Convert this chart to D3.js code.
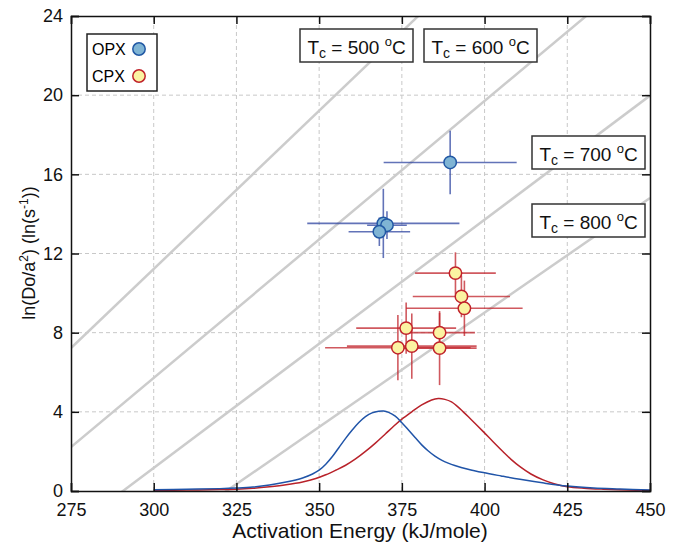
<!DOCTYPE html>
<html>
<head>
<meta charset="utf-8">
<script src="https://cdn.jsdelivr.net/npm/d3@7"></script>
<style>
  body { margin: 0; background: #fff; }
  svg { font-family: "Liberation Sans", Arial, Helvetica, sans-serif; }
</style>
</head>
<body>
<svg id="chart" width="682" height="544"></svg>
<script>
// data
const xTicks = [275, 300, 325, 350, 375, 400, 425, 450];
const yTicks = [0, 4, 8, 12, 16, 20, 24];

// OPX points: [E, lnD, E err, lnD err]
const opx = [
  [389.6, 16.6, 20.1, 1.6],
  [369.4, 13.52, 23.0, 1.75],
  [370.5, 13.43, 6.0, 0.7],
  [368.2, 13.1, 9.3, 0.72]
];
// CPX points
const cpx = [
  [391.2, 11.01, 12.2, 1.05],
  [393.0, 9.83, 14.7, 1.05],
  [393.9, 9.23, 17.6, 1.4],
  [376.3, 8.23, 15.1, 1.3],
  [386.4, 8.0, 10.7, 1.0],
  [373.8, 7.24, 22.0, 1.65],
  [378.0, 7.32, 19.6, 1.65],
  [386.4, 7.22, 11.2, 1.87]
];

// closure temperature isotherms, two end points each [E, lnD]
const isoLabels = ["500", "600", "700", "800"];
const isotherms = [
  [[275, 7.22], [450, 35.2]],
  [[275, 2.22], [450, 26.7]],
  [[275, -1.97], [450, 19.98]],
  [[275, -5.43], [450, 14.8]]
];

// probability curves (E, scaled density)
const opxCurve = [
  [300, 0.06], [310, 0.09], [320, 0.12], [325, 0.15], [330, 0.2], [335, 0.3], [340, 0.45],
  [345, 0.66], [348, 0.86], [350, 1.05], [352, 1.35], [354, 1.74], [356, 2.2], [358, 2.66],
  [360, 3.08], [362, 3.46], [364, 3.76], [366, 3.95], [368, 4.03], [369.5, 4.04], [371, 3.97],
  [373, 3.78], [375, 3.45], [377, 3.08], [379, 2.7], [381, 2.33], [383, 2.02], [385, 1.76],
  [387, 1.56], [389, 1.41], [391, 1.29], [395, 1.1], [399.6, 0.93], [405, 0.76],
  [410.7, 0.59], [418, 0.4], [425, 0.25], [433, 0.15], [440.9, 0.1], [450, 0.05]
];
const cpxCurve = [
  [300, 0.03], [310, 0.05], [320, 0.07], [325, 0.09], [330, 0.14], [335, 0.22], [340, 0.32],
  [345, 0.46], [349, 0.63], [352, 0.82], [355, 1.05], [358, 1.3], [361, 1.62], [364, 2.0],
  [367, 2.42], [370, 2.88], [372.5, 3.27], [375, 3.63], [378, 4.0], [381, 4.35], [384, 4.6],
  [386, 4.67], [388, 4.63], [390, 4.5], [392.6, 4.15], [396, 3.6], [399.6, 3.0], [402.5, 2.5],
  [405.6, 1.98], [408, 1.6], [410.7, 1.23], [414, 0.86], [417.7, 0.56], [421, 0.37],
  [425, 0.22], [430, 0.14], [435.9, 0.09], [443, 0.05], [450, 0.03]
];

const svg = d3.select('#chart');

const x = d3.scaleLinear().domain([275, 450]).range([71, 650]);
const y = d3.scaleLinear().domain([0, 24]).range([491, 16]);

svg.append('defs').append('clipPath').attr('id', 'plotClip')
  .append('rect')
  .attr('x', x(275)).attr('y', y(24))
  .attr('width', x(450) - x(275)).attr('height', y(0) - y(24));

// grid
const grid = svg.append('g');
xTicks.slice(1, -1).forEach(t => {
  grid.append('line')
    .attr('x1', x(t)).attr('x2', x(t)).attr('y1', y(0)).attr('y2', y(24))
    .attr('stroke', '#c8c8c8').attr('stroke-width', 1).attr('stroke-dasharray', '4,3');
});
yTicks.slice(1, -1).forEach(t => {
  grid.append('line')
    .attr('x1', x(275)).attr('x2', x(450)).attr('y1', y(t)).attr('y2', y(t))
    .attr('stroke', '#c8c8c8').attr('stroke-width', 1).attr('stroke-dasharray', '4,3');
});

const plot = svg.append('g').attr('clip-path', 'url(#plotClip)');

const line = d3.line().x(d => x(d[0])).y(d => y(d[1]));

// isotherms
isotherms.forEach(seg => {
  plot.append('path')
    .attr('d', line(seg))
    .attr('stroke', '#cccccc').attr('stroke-width', 2.5).attr('fill', 'none');
});

// curves
const curveLine = d3.line().curve(d3.curveCatmullRom).x(d => x(d[0])).y(d => y(d[1]));
plot.append('path').attr('d', curveLine(cpxCurve))
  .attr('stroke', '#b8222a').attr('stroke-width', 1.5).attr('fill', 'none');
plot.append('path').attr('d', curveLine(opxCurve))
  .attr('stroke', '#2054a8').attr('stroke-width', 1.5).attr('fill', 'none');

// error bars
function errorBars(data, color) {
  const g = plot.append('g').attr('stroke', color).attr('stroke-width', 1.6).attr('stroke-opacity', 0.75);
  data.forEach(d => {
    g.append('line')
      .attr('x1', x(d[0] - d[2])).attr('x2', x(d[0] + d[2]))
      .attr('y1', y(d[1])).attr('y2', y(d[1]));
    g.append('line')
      .attr('x1', x(d[0])).attr('x2', x(d[0]))
      .attr('y1', y(d[1] - d[3])).attr('y2', y(d[1] + d[3]));
  });
}
errorBars(cpx, '#c0222a');
errorBars(opx, '#2e44a0');

function points(data, fill, stroke) {
  plot.append('g').selectAll('circle')
    .data(data)
    .join('circle')
    .attr('cx', d => x(d[0]))
    .attr('cy', d => y(d[1]))
    .attr('r', 6.2)
    .attr('fill', fill)
    .attr('stroke', stroke)
    .attr('stroke-width', 1.5);
}
points(cpx, '#fbf3a2', '#c0222a');
points(opx, '#7fb4d4', '#2158a4');

// Tc labels
const boxes = [
  { x: 300, y: 29 },
  { x: 424, y: 29 },
  { x: 532, y: 136 },
  { x: 532, y: 204 }
];
isoLabels.forEach((t, i) => {
  const b = boxes[i];
  const g = svg.append('g').attr('transform', `translate(${b.x},${b.y})`);
  g.append('rect').attr('width', 113).attr('height', 33)
    .attr('fill', '#fff').attr('stroke', '#333').attr('stroke-width', 1.5);
  const txt = g.append('text')
    .attr('x', 56.5).attr('y', 24.5)
    .attr('text-anchor', 'middle')
    .attr('font-size', 19).attr('fill', '#111');
  txt.append('tspan').text('T');
  txt.append('tspan').attr('font-size', 14).attr('dy', 4).text('c');
  txt.append('tspan').attr('dy', -4).text(' = ' + t + ' ');
  txt.append('tspan').attr('font-size', 13).attr('dy', -8).text('o');
  txt.append('tspan').attr('dy', 8).text('C');
});

// legend
const leg = svg.append('g').attr('transform', 'translate(87,34)');
leg.append('rect').attr('width', 70).attr('height', 57)
  .attr('fill', '#fff').attr('stroke', '#222').attr('stroke-width', 1.5);
leg.append('text').attr('x', 5).attr('y', 20.5).attr('font-size', 16).text('OPX');
leg.append('text').attr('x', 5).attr('y', 47.5).attr('font-size', 16).text('CPX');
leg.append('circle').attr('cx', 52).attr('cy', 15).attr('r', 6.2)
  .attr('fill', '#7fb4d4').attr('stroke', '#2158a4').attr('stroke-width', 1.5);
leg.append('circle').attr('cx', 52).attr('cy', 42).attr('r', 6.2)
  .attr('fill', '#fbf3a2').attr('stroke', '#c0222a').attr('stroke-width', 1.5);

// axes
const axB = svg.append('g').attr('transform', `translate(0,${y(0)})`)
  .call(d3.axisBottom(x).tickValues(xTicks).tickSize(-8).tickPadding(12));
const axL = svg.append('g').attr('transform', `translate(${x(275)},0)`)
  .call(d3.axisLeft(y).tickValues(yTicks).tickSize(-8).tickPadding(8));
const axT = svg.append('g').attr('transform', `translate(0,${y(24)})`)
  .call(d3.axisTop(x).tickValues(xTicks).tickSize(-8).tickFormat(''));
const axR = svg.append('g').attr('transform', `translate(${x(450)},0)`)
  .call(d3.axisRight(y).tickValues(yTicks).tickSize(-8).tickFormat(''));
[axB, axL, axT, axR].forEach(a => {
  a.select('.domain').attr('stroke', '#111').attr('stroke-width', 1.5);
  a.selectAll('.tick line').attr('stroke', '#111').attr('stroke-width', 1.5);
  a.selectAll('.tick text').attr('font-size', 18).attr('fill', '#111')
    .attr('font-family', '"Liberation Sans", Arial, sans-serif');
});

// axis titles
svg.append('text')
  .attr('x', 360).attr('y', 538)
  .attr('text-anchor', 'middle').attr('font-size', 21).attr('fill', '#111')
  .text('Activation Energy (kJ/mole)');

const yl = svg.append('text')
  .attr('transform', 'translate(35,253) rotate(-90)')
  .attr('text-anchor', 'middle').attr('font-size', 18).attr('fill', '#111');
yl.append('tspan').text('ln(Do/a');
yl.append('tspan').attr('font-size', 12).attr('dy', -7).text('2');
yl.append('tspan').attr('dy', 7).text(') (ln(s');
yl.append('tspan').attr('font-size', 12).attr('dy', -7).text('-1');
yl.append('tspan').attr('dy', 7).text('))');
</script>
</body>
</html>
